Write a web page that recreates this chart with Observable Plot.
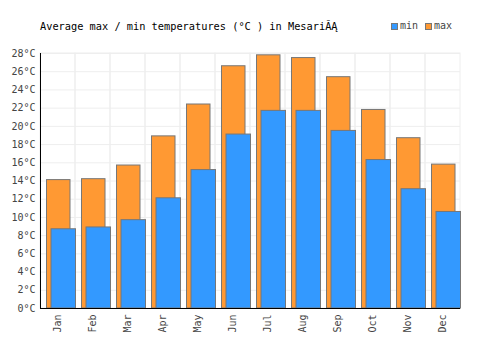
<!DOCTYPE html>
<html>
<head>
<meta charset="utf-8">
<script src="https://cdn.jsdelivr.net/npm/d3@7"></script>
<script src="https://cdn.jsdelivr.net/npm/@observablehq/plot@0.6"></script>
<style>
  body { margin: 0; background: #fff; }
  #wrap { position: relative; width: 500px; height: 350px; font-family: "DejaVu Sans Mono", monospace; }
  #title { position: absolute; left: 40px; top: 20px; font-size: 10.3px; line-height: 12px; color: #000; white-space: pre; }
  #legend { position: absolute; left: 391px; top: 20px; font-size: 10px; line-height: 12px; color: #444; display: flex; align-items: center; }
  .sw { width: 5px; height: 5px; border: 1px solid #777; display: inline-block; margin-right: 2px; }
  svg { position: absolute; left: 0; top: 0; }
</style>
</head>
<body>
<div id="wrap">
  <div id="title"></div>
  <div id="legend"></div>
</div>
<script>
const months = ["Jan","Feb","Mar","Apr","May","Jun","Jul","Aug","Sep","Oct","Nov","Dec"];
const maxTemps = [14.1, 14.2, 15.7, 18.9, 22.4, 26.6, 27.8, 27.5, 25.4, 21.8, 18.7, 15.8];
const minTemps = [8.7, 8.9, 9.7, 12.1, 15.2, 19.1, 21.7, 21.7, 19.5, 16.3, 13.1, 10.6];
const yTicks = [0,2,4,6,8,10,12,14,16,18,20,22,24,26,28];
const titleText = "Average max / min temperatures (°C ) in MesariĂĄ";
const seriesNames = ["min", "max"];
const colors = {min: "#3399ff", max: "#ff9933"};

const data = months.map((m, i) => ({month: m, max: maxTemps[i], min: minTemps[i]}));

const chart = Plot.plot({
  width: 500,
  height: 350,
  marginLeft: 40,
  marginRight: 40,
  marginTop: 53,
  marginBottom: 42,
  style: {fontFamily: "DejaVu Sans Mono, monospace", fontSize: "10px", color: "#444", background: "transparent"},
  x: {type: "band", domain: months, padding: 0, tickSize: 0, tickRotate: -90, tickPadding: 6, label: null},
  y: {domain: [0, 28], ticks: yTicks, tickFormat: d => d + "°C", tickSize: 0, tickPadding: 5, label: null},
  marks: [
    Plot.gridY(yTicks, {stroke: "#eee", strokeOpacity: 1, strokeWidth: 1}),
    Plot.barY(months, {x: d => d, y: 28, fill: "none", stroke: "#eee", strokeWidth: 1}),
    Plot.barY(data, {x: "month", y: "max", fill: colors.max, stroke: "#777", strokeWidth: 1, insetLeft: 6.5, insetRight: 5}),
    Plot.barY(data, {x: "month", y: "min", fill: colors.min, stroke: "#777", strokeWidth: 1, insetLeft: 11, insetRight: -0.5}),
    Plot.ruleY([0], {stroke: "#000", strokeWidth: 1}),
    Plot.ruleX([months[0]], {dx: -17.5, y1: 0, y2: 28, stroke: "#000", strokeWidth: 1})
  ]
});
document.getElementById("wrap").appendChild(chart);
document.getElementById("title").textContent = titleText;
const lg = document.getElementById("legend");
seriesNames.forEach((s, i) => {
  const sw = document.createElement("span");
  sw.className = "sw";
  sw.style.background = colors[s];
  const t = document.createElement("span");
  t.textContent = s;
  t.style.marginRight = i === 0 ? "7px" : "0";
  lg.appendChild(sw); lg.appendChild(t);
});
</script>
</body>
</html>
